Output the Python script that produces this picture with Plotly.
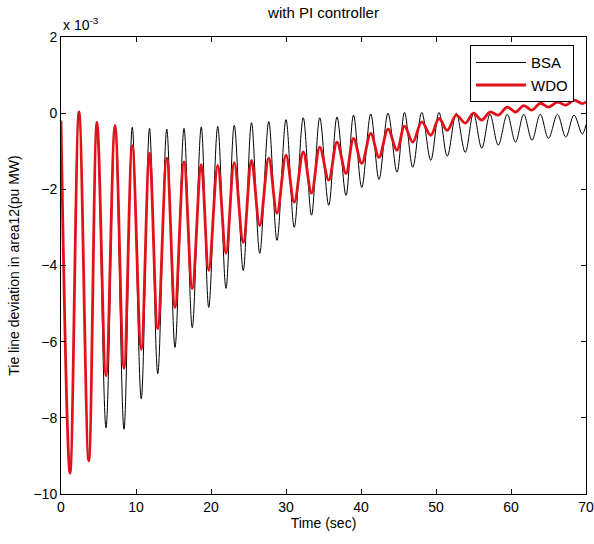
import plotly.graph_objects as go

# Times of the successive extremes (start, trough, peak, ..., end), seconds
t_ext = [0, 1.2, 2.4, 3.7, 4.8, 6.0, 7.2, 8.4, 9.5, 10.7, 11.8, 12.9, 14.1, 15.2, 16.4,
         17.5, 18.7, 19.7, 20.9, 22.0, 23.1, 24.3, 25.4, 26.5, 27.7, 28.8, 30.0, 31.1,
         32.3, 33.4, 34.5, 35.7, 36.8, 38.0, 39.0, 40.1, 41.3, 42.4, 43.6, 44.8, 45.8,
         46.9, 48.1, 49.3, 50.4, 51.5, 52.7, 53.9, 55.0, 56.1, 57.2, 58.3, 59.5, 60.6,
         61.7, 62.8, 63.9, 65.0, 66.2, 67.3, 68.4, 69.5, 70.0]

# Tie-line deviation values at those extremes (x 1e-3 pu MW)
bsa = [-0.2, -9.45, 0.03, -9.13, -0.24, -8.26, -0.32, -8.3, -0.37, -7.5, -0.4, -6.84,
       -0.42, -6.15, -0.4, -5.63, -0.36, -5.1, -0.35, -4.6, -0.32, -4.13, -0.25, -3.68,
       -0.22, -3.34, -0.17, -3.0, -0.12, -2.68, -0.12, -2.42, -0.1, -2.16, -0.05, -1.95,
       -0.02, -1.74, 0.0, -1.55, 0.02, -1.42, 0.02, -1.24, 0.02, -1.13, 0.0, -1.03, 0.0,
       -0.92, -0.03, -0.84, -0.03, -0.76, -0.03, -0.71, -0.03, -0.66, -0.03, -0.63,
       -0.05, -0.55, -0.3]

wdo = [-0.2, -9.45, 0.03, -9.13, -0.24, -6.9, -0.32, -6.7, -0.85, -6.2, -1.05, -5.66,
       -1.18, -5.1, -1.28, -4.6, -1.35, -4.13, -1.37, -3.68, -1.3, -3.4, -1.24, -2.95,
       -1.18, -2.63, -1.1, -2.34, -1.02, -2.1, -0.89, -1.76, -0.76, -1.58, -0.66, -1.32,
       -0.53, -1.16, -0.42, -0.97, -0.34, -0.76, -0.23, -0.58, -0.14, -0.45, -0.05,
       -0.26, 0.0, -0.18, 0.03, -0.05, 0.16, 0.03, 0.2, 0.08, 0.26, 0.16, 0.29, 0.21,
       0.34, 0.25, 0.3]

x_ticks = [0, 10, 20, 30, 40, 50, 60, 70]
y_ticks = [-10, -8, -6, -4, -2, 0, 2]

FONT = "Liberation Sans, Arial, sans-serif"

fig = go.Figure()
fig.add_trace(go.Scatter(x=t_ext, y=bsa, name="BSA", mode="lines",
                         line=dict(color="black", width=1, shape="spline", smoothing=1.0)))
fig.add_trace(go.Scatter(x=t_ext, y=wdo, name="WDO", mode="lines",
                         line=dict(color="#e3121a", width=2.8, shape="spline", smoothing=1.0)))

axis_common = dict(showline=True, linecolor="black", linewidth=1, mirror="ticks",
                   ticks="inside", ticklen=5, tickcolor="black", showgrid=False,
                   zeroline=False, automargin=False,
                   tickfont=dict(family=FONT, size=14, color="black"))

fig.update_xaxes(range=[0, 70], tickvals=x_ticks, **axis_common,
                 title=dict(text="Time (sec)", font=dict(family=FONT, size=14, color="black"),
                            standoff=2))
fig.update_yaxes(range=[-10, 2], tickvals=y_ticks, **axis_common,
                 title=dict(text="Tie line deviation in area12(pu MW)",
                            font=dict(family=FONT, size=14, color="black"), standoff=10))

fig.update_layout(
    width=594, height=544,
    margin=dict(l=61, r=8, t=37, b=50),
    paper_bgcolor="white", plot_bgcolor="white",
    title=dict(text="with PI controller", x=0.5, xanchor="center", xref="paper",
               y=1, yref="container", yanchor="top", pad=dict(t=7),
               automargin=False,
               font=dict(family=FONT, size=15, color="black")),
    legend=dict(x=0.779, y=0.982, xanchor="left", yanchor="top",
                bgcolor="white", bordercolor="black", borderwidth=1,
                font=dict(family=FONT, size=15, color="black"),
                itemwidth=50, tracegroupgap=2),
    showlegend=True,
)

fig.add_annotation(text="x 10<sup>-3</sup>", xref="paper", yref="paper", x=0.0, y=1.0,
                   xanchor="left", yanchor="bottom", showarrow=False, yshift=2,
                   font=dict(family=FONT, size=14, color="black"))

fig.write_html("out.html")
